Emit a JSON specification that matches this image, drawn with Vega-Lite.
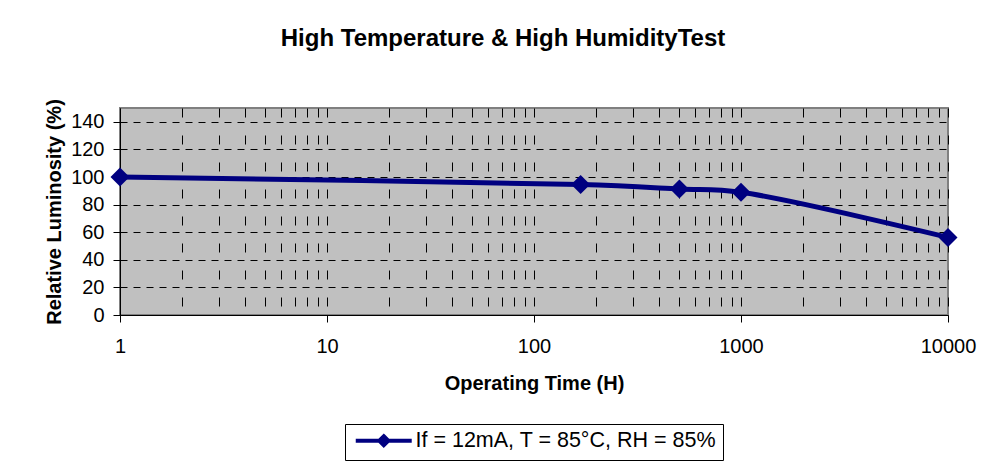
{
  "$schema": "https://vega.github.io/schema/vega-lite/v6.json",
  "width": 828,
  "height": 207,
  "autosize": {"type": "none"},
  "padding": {"left": 120, "top": 108, "right": 44, "bottom": 148},
  "background": "white",
  "title": {
    "text": "High Temperature & High HumidityTest",
    "fontSize": 24,
    "fontWeight": "bold",
    "color": "black",
    "dx": -31,
    "offset": 48
  },
  "config": {
    "font": "Liberation Sans",
    "view": {"fill": "#c0c0c0", "stroke": "#808080", "strokeWidth": 2},
    "axis": {
      "labelFontSize": 20,
      "labelColor": "black",
      "labelFlush": false,
      "labelOverlap": false,
      "titleFontSize": 20,
      "titleFontWeight": "bold",
      "titleColor": "black",
      "domainColor": "black",
      "domainWidth": 1,
      "tickColor": "black",
      "tickSize": 7,
      "gridColor": "black",
      "gridOpacity": 1,
      "gridWidth": 1
    }
  },
  "data": {
    "values": [
      {"time": 1, "lum": 100, "series": "If = 12mA, T = 85°C, RH = 85%"},
      {"time": 168, "lum": 94.5, "series": "If = 12mA, T = 85°C, RH = 85%"},
      {"time": 504, "lum": 91.3, "series": "If = 12mA, T = 85°C, RH = 85%"},
      {"time": 1000, "lum": 88.9, "series": "If = 12mA, T = 85°C, RH = 85%"},
      {"time": 10000, "lum": 56.2, "series": "If = 12mA, T = 85°C, RH = 85%"}
    ]
  },
  "layer": [
    {
      "mark": {"type": "line", "interpolate": "catmull-rom", "strokeWidth": 5},
      "encoding": {
        "x": {
          "field": "time",
          "type": "quantitative",
          "scale": {"type": "log", "domain": [1, 10000], "nice": false},
          "axis": {
            "orient": "bottom",
            "values": [1, 2, 3, 4, 5, 6, 7, 8, 9, 10, 20, 30, 40, 50, 60, 70, 80, 90, 100, 200, 300, 400, 500, 600, 700, 800, 900, 1000, 2000, 3000, 4000, 5000, 6000, 7000, 8000, 9000, 10000],
            "grid": true,
            "gridDash": [9, 18],
            "labels": false,
            "ticks": false,
            "domain": false,
            "title": null
          }
        },
        "y": {
          "field": "lum",
          "type": "quantitative",
          "scale": {"domain": [0, 150], "nice": false},
          "axis": {
            "values": [0, 20, 40, 60, 80, 100, 120, 140],
            "grid": true,
            "gridDash": [7, 6],
            "labelPadding": 9,
            "title": "Relative Luminosity (%)",
            "titlePadding": 6
          }
        },
        "color": {
          "field": "series",
          "type": "nominal",
          "scale": {"range": ["#000080"]},
          "legend": {
            "orient": "none",
            "legendX": 225,
            "legendY": 316,
            "title": null,
            "direction": "vertical",
            "strokeColor": "black",
            "fillColor": "white",
            "padding": 6,
            "labelFontSize": 21.5,
            "labelColor": "black",
            "labelLimit": 0,
            "labelOffset": 43,
            "symbolType": "M-1,0H8.33M3.67,-0.75L4.42,0L3.67,0.75L2.92,0Z",
            "symbolSize": 144,
            "symbolStrokeWidth": 4,
            "symbolFillColor": "#000080",
            "symbolStrokeColor": "#000080",
            "symbolOpacity": 1
          }
        }
      }
    },
    {
      "mark": {"type": "point", "shape": "diamond", "filled": true, "size": 360, "color": "#000080", "opacity": 1},
      "encoding": {
        "x": {
          "field": "time",
          "type": "quantitative",
          "scale": {"type": "log", "domain": [1, 10000], "nice": false},
          "axis": {
            "orient": "bottom",
            "values": [1, 10, 100, 1000, 10000],
            "format": "d",
            "grid": false,
            "labelPadding": 14,
            "title": "Operating Time (H)",
            "titlePadding": 17
          }
        },
        "y": {
          "field": "lum",
          "type": "quantitative",
          "scale": {"domain": [0, 150], "nice": false},
          "axis": {
            "values": [0, 20, 40, 60, 80, 100, 120, 140],
            "grid": true,
            "gridDash": [7, 6],
            "labelPadding": 9,
            "title": "Relative Luminosity (%)",
            "titlePadding": 6
          }
        }
      }
    }
  ],
  "resolve": {"axis": {"x": "independent"}}
}
